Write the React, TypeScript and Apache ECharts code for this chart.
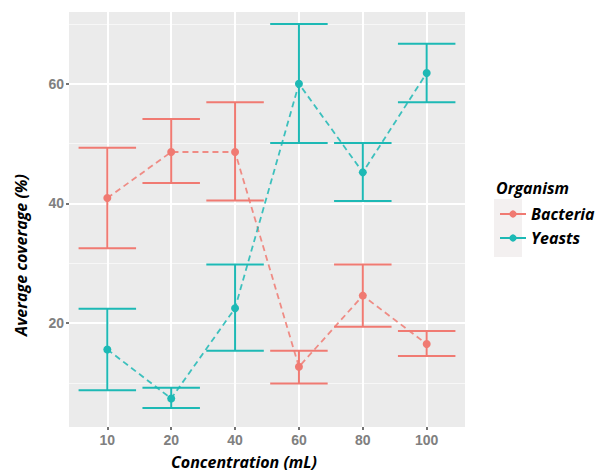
import React, { useEffect, useRef } from "react";
import * as echarts from "echarts";

const categories = ["10", "20", "40", "60", "80", "100"];
const bacteriaMean = [40.9, 48.6, 48.6, 12.7, 24.6, 16.5];
const bacteriaLow = [32.5, 43.4, 40.5, 9.9, 19.4, 14.5];
const bacteriaHigh = [49.3, 54.1, 56.9, 15.4, 29.8, 18.7];
const yeastsMean = [15.6, 7.4, 22.5, 60.0, 45.2, 61.8];
const yeastsLow = [8.8, 5.8, 15.4, 50.1, 40.4, 56.9];
const yeastsHigh = [22.4, 9.2, 29.8, 70.0, 50.1, 66.7];
const yMajorTicks = [20, 40, 60];
const yMinorTicks = [10, 30, 50, 70];

const RED = "#F07A72";
const TEAL = "#1DB9B5";
const TITLE_FONT = "Open Sans";

function errorBarSeries(name: string, color: string, low: number[], high: number[]) {
  return {
    type: "custom",
    name: name + " error",
    xAxisIndex: 0,
    yAxisIndex: 0,
    silent: true,
    z: 2,
    encode: { x: 0, y: [1, 2] },
    data: categories.map((_, i) => [i + 1, low[i], high[i]]),
    renderItem: (params: any, api: any) => {
      const x = api.value(0);
      const lo = api.value(1);
      const hi = api.value(2);
      const pLo = api.coord([x, lo]);
      const pHi = api.coord([x, hi]);
      const hw = api.size([0.45, 0])[0];
      const style = { stroke: color, lineWidth: 2, fill: "none" };
      return {
        type: "group",
        children: [
          { type: "line", shape: { x1: pLo[0], y1: pLo[1], x2: pHi[0], y2: pHi[1] }, style },
          { type: "line", shape: { x1: pHi[0] - hw, y1: pHi[1], x2: pHi[0] + hw, y2: pHi[1] }, style },
          { type: "line", shape: { x1: pLo[0] - hw, y1: pLo[1], x2: pLo[0] + hw, y2: pLo[1] }, style },
        ],
      };
    },
  };
}

function lineSeries(name: string, color: string, mean: number[]) {
  return {
    type: "line",
    name,
    xAxisIndex: 0,
    yAxisIndex: 0,
    z: 3,
    data: categories.map((_, i) => [i + 1, mean[i]]),
    symbol: "circle",
    symbolSize: 8,
    itemStyle: { color },
    lineStyle: { color, width: 1.8, type: [6, 4], opacity: 0.85 },
  };
}

const titleStyle = {
  fontFamily: TITLE_FONT,
  fontWeight: "bold",
  fontStyle: "italic",
  fontSize: 16,
  fill: "#000000",
  verticalAlign: "middle",
};

export default function App() {
  const ref = useRef<HTMLDivElement>(null);
  useEffect(() => {
    if (!ref.current) return;
    const chart = echarts.init(ref.current, null, { renderer: "svg" });
    const yMin = 2.64;
    const yMax = 72.0;
    const tickLabel = {
      color: "#808080",
      fontSize: 14,
      fontWeight: "bold",
      fontFamily: "Liberation Sans",
    };
    chart.setOption({
      animation: false,
      backgroundColor: "#FFFFFF",
      grid: {
        left: 69,
        top: 12,
        width: 396,
        height: 415,
        show: true,
        backgroundColor: "#EBEBEB",
        borderWidth: 0,
        containLabel: false,
      },
      xAxis: {
        type: "value",
        min: 0.4,
        max: 6.6,
        axisLine: { show: false },
        axisTick: {
          show: true,
          length: 3,
          lineStyle: { color: "#444", width: 1.5 },
          customValues: [1, 2, 3, 4, 5, 6],
        },
        axisLabel: {
          customValues: [1, 2, 3, 4, 5, 6],
          formatter: (v: number) => categories[Math.round(v) - 1] ?? "",
          margin: 6,
          ...tickLabel,
        },
        splitLine: { show: true, lineStyle: { color: "#FFFFFF", width: 2 } },
      },
      yAxis: [
        {
          type: "value",
          min: yMin,
          max: yMax,
          axisLine: { show: false },
          axisTick: {
            show: true,
            length: 3,
            lineStyle: { color: "#444", width: 1.5 },
            customValues: yMajorTicks,
          },
          axisLabel: {
            customValues: yMajorTicks,
            margin: 5,
            ...tickLabel,
          },
          splitLine: { show: true, lineStyle: { color: "#FFFFFF", width: 2 } },
          z: 1,
        },
        {
          type: "value",
          min: yMin,
          max: yMax,
          position: "right",
          axisLine: { show: false },
          axisTick: { show: false, customValues: yMinorTicks },
          axisLabel: { show: false, customValues: yMinorTicks },
          splitLine: { show: true, lineStyle: { color: "#F7F7F7", width: 1 } },
          z: 0,
        },
      ],
      legend: {
        orient: "vertical",
        left: 494,
        top: 201,
        itemWidth: 26,
        itemHeight: 9,
        itemGap: 8,
        data: ["Bacteria", "Yeasts"],
        lineStyle: { type: "solid", width: 2, opacity: 1 },
        textStyle: {
          fontFamily: TITLE_FONT,
          fontWeight: "bold",
          fontStyle: "italic",
          fontSize: 16,
          color: "#000000",
        },
      },
      graphic: [
        {
          type: "rect",
          shape: { x: 494, y: 199, width: 28, height: 58 },
          style: { fill: "#F3F0F0" },
          z: -1,
        },
        {
          type: "text",
          x: 496,
          y: 188,
          style: { ...titleStyle, text: "Organism", textAlign: "left" },
        },
        {
          type: "text",
          x: 244,
          y: 462,
          style: { ...titleStyle, text: "Concentration (mL)", textAlign: "center" },
        },
        {
          type: "text",
          x: 21,
          y: 255,
          rotation: Math.PI / 2,
          style: { ...titleStyle, text: "Average coverage (%)", textAlign: "center" },
        },
      ],
      series: [
        errorBarSeries("Bacteria", RED, bacteriaLow, bacteriaHigh),
        errorBarSeries("Yeasts", TEAL, yeastsLow, yeastsHigh),
        lineSeries("Bacteria", RED, bacteriaMean),
        lineSeries("Yeasts", TEAL, yeastsMean),
      ],
    });
    return () => chart.dispose();
  }, []);
  return (
    <div
      ref={ref}
      style={{ position: "fixed", left: 0, top: 0, width: 596, height: 474 }}
    />
  );
}
